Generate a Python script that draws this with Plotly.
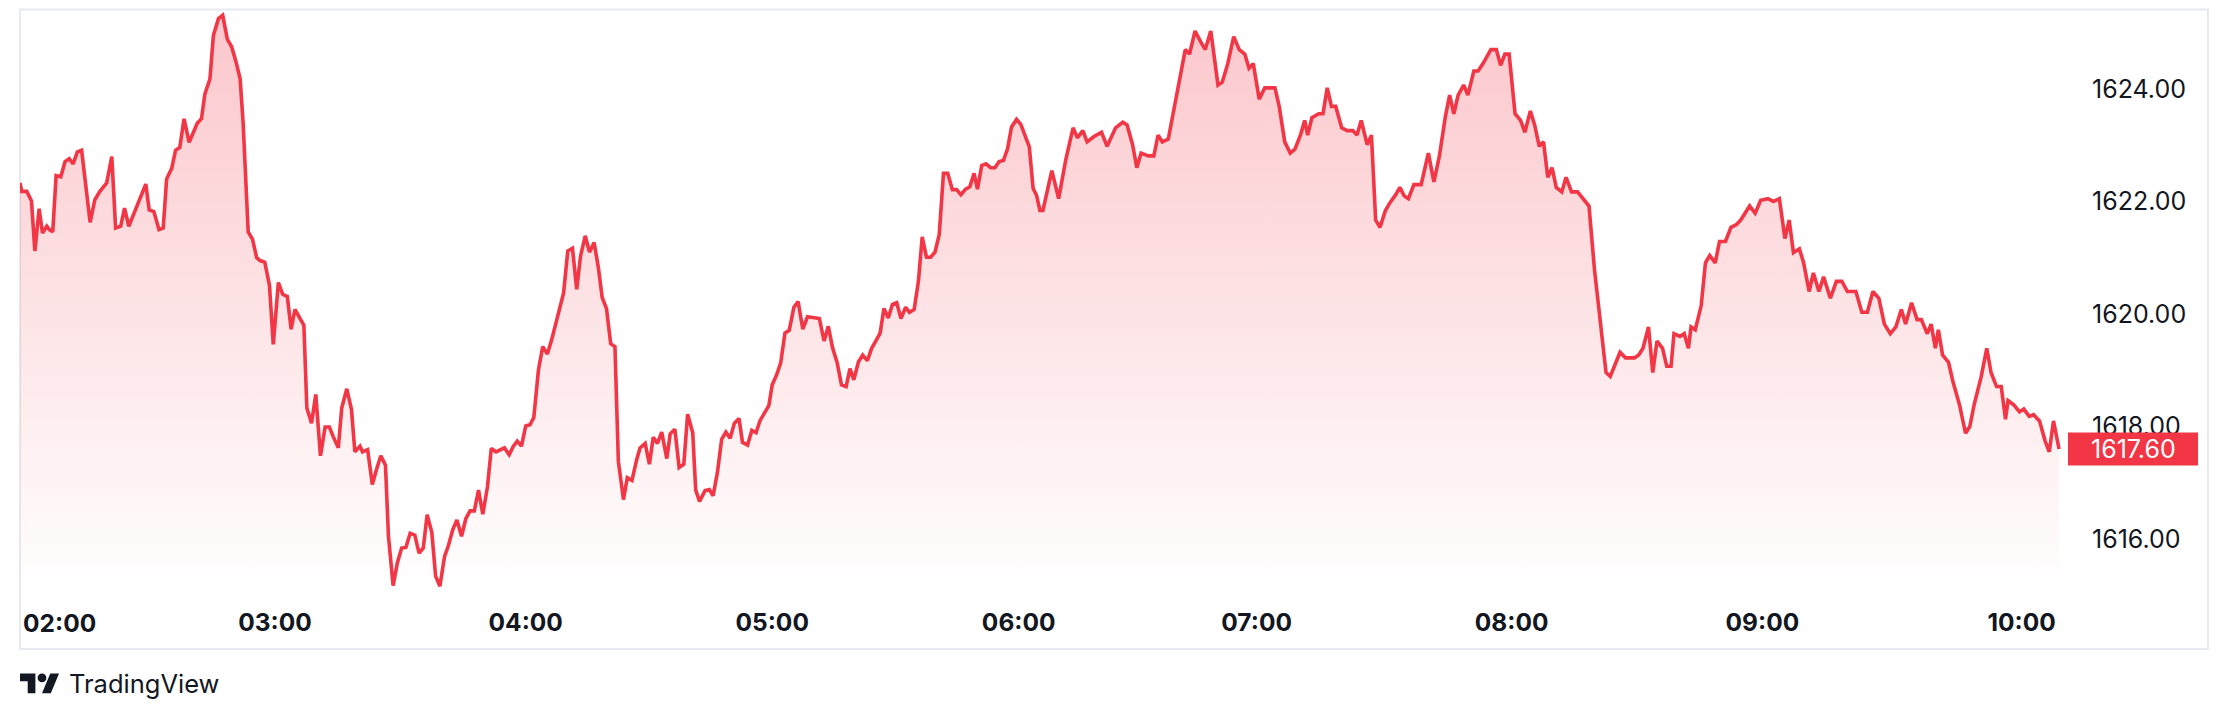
import plotly.graph_objects as go

# ---------------- data (bar index along the time scale, price) ----------------
bar_a = [0.0, 0.4, 1.6, 2.7, 3.5, 4.5, 5.3, 6.3, 6.9, 7.7, 8.5, 9.6, 10.6, 11.6, 12.5, 13.5, 14.5, 16.5, 17.6, 18.8,
         20.4, 21.6, 22.5, 23.7, 24.6, 25.6, 29.6, 30.4, 31.5, 32.7, 33.7, 34.5, 35.7, 36.6, 37.6, 38.6, 39.8, 40.8,
         41.7, 42.7, 43.5, 44.7, 45.5, 46.7, 47.7, 48.8, 49.8, 50.8, 51.8, 52.5, 53.7, 54.7, 55.7, 56.5, 57.6, 58.7,
         59.6, 60.8, 61.8, 62.9, 63.8, 64.7, 65.7, 66.8, 67.5, 68.6, 69.6, 70.7, 71.8, 72.8, 73.7, 74.9, 75.7, 76.9,
         78.0, 78.8, 80.0]
price_a = [1622.33, 1622.18, 1622.18, 1622.01, 1621.12, 1621.87, 1621.44, 1621.56, 1621.50, 1621.46, 1622.46, 1622.44,
           1622.71, 1622.76, 1622.67, 1622.88, 1622.91, 1621.63, 1622.03, 1622.18, 1622.33, 1622.80, 1621.53, 1621.56,
           1621.88, 1621.56, 1622.31, 1621.85, 1621.82, 1621.50, 1621.53, 1622.40, 1622.59, 1622.91, 1622.96, 1623.47,
           1623.05, 1623.23, 1623.39, 1623.47, 1623.91, 1624.18, 1624.95, 1625.25, 1625.31, 1624.88, 1624.75, 1624.49,
           1624.18, 1623.40, 1621.46, 1621.33, 1621.00, 1620.95, 1620.92, 1620.51, 1619.46, 1620.56, 1620.35, 1620.31,
           1619.73, 1620.08, 1619.95, 1619.80, 1618.33, 1618.06, 1618.57, 1617.48, 1617.99, 1617.99, 1617.82, 1617.62,
           1618.33, 1618.67, 1618.30, 1617.55, 1617.65]

bar_b = [80.6, 81.8, 82.9, 83.9, 84.9, 86.0, 86.7, 87.8, 88.8, 89.8, 90.8, 91.8, 92.9, 93.9, 94.9, 95.8, 96.9, 97.8,
         98.8, 99.9, 100.8, 101.8, 102.8, 103.9, 104.9, 105.9, 106.9, 107.9, 108.9, 110.0, 110.9, 112.0, 114.0, 115.1,
         116.1, 117.0, 118.0, 119.0, 120.0, 120.9, 122.0, 123.0, 124.1, 125.1, 126.1, 127.1, 127.9, 128.9, 130.0,
         131.0, 131.9, 133.0, 134.0, 135.1, 136.1, 137.0, 138.0, 139.0, 140.0, 140.8, 142.0, 142.9, 144.0, 145.1,
         145.9, 147.1, 148.1, 149.0, 150.0, 151.0, 152.2, 153.0, 154.1, 155.1, 156.2, 157.1, 158.3, 159.0, 159.9]
price_b = [1617.55, 1617.59, 1616.97, 1617.24, 1617.48, 1617.31, 1616.05, 1615.17, 1615.58, 1615.84, 1615.85, 1616.10,
           1616.07, 1615.75, 1615.84, 1616.43, 1616.12, 1615.34, 1615.16, 1615.69, 1615.88, 1616.16, 1616.34, 1616.05,
           1616.36, 1616.50, 1616.50, 1616.87, 1616.44, 1616.93, 1617.61, 1617.55, 1617.62, 1617.50, 1617.65, 1617.74,
           1617.65, 1618.01, 1618.03, 1618.16, 1619.01, 1619.42, 1619.29, 1619.54, 1619.83, 1620.10, 1620.37, 1621.12,
           1621.17, 1620.44, 1621.03, 1621.39, 1621.10, 1621.27, 1620.82, 1620.29, 1620.10, 1619.47, 1619.42, 1617.38,
           1616.70, 1617.09, 1617.04, 1617.41, 1617.62, 1617.70, 1617.33, 1617.81, 1617.70, 1617.90, 1617.43, 1617.87,
           1617.95, 1617.27, 1617.33, 1618.22, 1617.89, 1616.87, 1616.67]

bar_c = [161.2, 162.2, 163.1, 164.1, 165.1, 166.1, 167.1, 168.1, 169.2, 170.0, 171.2, 172.2, 173.2, 174.1, 175.1,
         176.2, 177.0, 178.0, 179.0, 180.0, 181.0, 182.1, 183.1, 184.2, 185.3, 188.1, 189.2, 190.2, 191.2, 192.3,
         193.3, 194.4, 195.3, 196.2, 197.3, 198.3, 199.4, 200.4, 201.3, 202.4, 203.3, 204.3, 205.3, 206.3, 207.3,
         208.4, 209.3, 210.4, 211.4, 212.3, 213.3, 214.3, 215.3, 216.3, 217.3, 218.3, 219.4, 220.4, 221.4, 222.5,
         223.5, 224.5, 225.3, 226.3, 227.3, 228.4, 229.4, 230.4, 231.4, 232.4, 233.3, 234.5, 235.5, 236.5, 237.5,
         238.4, 239.2, 240.0]
price_c = [1616.86, 1616.88, 1616.77, 1617.18, 1617.77, 1617.90, 1617.79, 1618.06, 1618.14, 1617.72, 1617.67, 1617.93,
           1617.89, 1618.10, 1618.23, 1618.37, 1618.74, 1618.91, 1619.13, 1619.66, 1619.71, 1620.12, 1620.22, 1619.73,
           1619.95, 1619.92, 1619.52, 1619.78, 1619.40, 1619.13, 1618.74, 1618.71, 1619.03, 1618.83, 1619.15, 1619.27,
           1619.17, 1619.39, 1619.51, 1619.66, 1620.10, 1619.93, 1620.17, 1620.20, 1619.92, 1620.12, 1620.03, 1620.08,
           1620.58, 1621.37, 1621.01, 1621.01, 1621.10, 1621.41, 1622.50, 1622.50, 1622.21, 1622.21, 1622.12, 1622.22,
           1622.26, 1622.50, 1622.22, 1622.64, 1622.67, 1622.60, 1622.60, 1622.71, 1622.73, 1622.94, 1623.32, 1623.46,
           1623.37, 1623.16, 1622.97, 1622.23, 1622.11, 1621.84]

bar_d = [240.7, 242.8, 244.4, 246.1, 247.8, 248.8, 250.1, 251.1, 252.8, 254.5, 255.8, 257.8, 259.5, 260.5, 261.8,
         262.8, 263.8, 265.5, 266.8, 267.8, 268.8, 270.2, 271.5, 272.8, 274.2, 275.2, 276.5, 277.9, 278.9, 280.2,
         281.9, 282.9, 284.2, 285.6, 286.9, 288.2, 289.2, 290.2, 291.6, 292.9, 294.2, 295.3, 296.3, 297.6, 298.9,
         300.0, 301.3, 302.3, 303.0, 304.0, 305.6, 306.6, 307.6, 308.6, 309.6, 311.0, 312.3, 313.6, 314.6, 315.6,
         317.0, 318.0, 319.0, 320.0, 321.3, 322.3, 323.7, 324.7, 325.7, 326.7, 328.0, 329.7, 331.4, 332.7, 334.0,
         335.4, 336.4, 337.4, 338.4, 339.7, 340.7, 342.1, 343.1, 344.4, 346.1, 347.4, 348.4, 349.4, 350.4]
price_d = [1621.84, 1622.55, 1622.05, 1622.75, 1623.31, 1623.13, 1623.26, 1623.06, 1623.16, 1623.23, 1622.98, 1623.31,
           1623.41, 1623.36, 1623.01, 1622.60, 1622.86, 1622.81, 1622.81, 1623.18, 1623.06, 1623.11, 1623.61, 1624.12,
           1624.70, 1624.62, 1625.03, 1624.83, 1624.70, 1625.03, 1624.07, 1624.12, 1624.45, 1624.93, 1624.70, 1624.62,
           1624.37, 1624.45, 1623.82, 1624.02, 1624.02, 1624.02, 1623.69, 1623.06, 1622.86, 1622.93, 1623.18, 1623.44,
           1623.18, 1623.49, 1623.56, 1623.56, 1624.02, 1623.69, 1623.69, 1623.31, 1623.26, 1623.26, 1623.18, 1623.44,
           1623.01, 1623.18, 1621.67, 1621.54, 1621.84, 1621.97, 1622.12, 1622.25, 1622.10, 1622.05, 1622.30, 1622.30,
           1622.86, 1622.35, 1622.81, 1623.51, 1623.89, 1623.56, 1623.89, 1624.07, 1623.89, 1624.32, 1624.32, 1624.47,
           1624.70, 1624.70, 1624.42, 1624.62, 1624.62]

bar_e = [351.8, 353.1, 354.1, 355.4, 356.4, 357.5, 358.5, 359.5, 360.5, 361.5, 362.8, 363.8, 365.1, 366.5, 367.8,
         369.2, 370.5, 371.8, 373.2, 374.2, 375.5, 376.5, 377.8, 379.9, 380.9, 381.9, 383.2, 384.2, 385.2, 386.5,
         387.5, 388.5, 389.2, 390.6, 391.6, 392.6, 393.2, 394.2, 395.6, 396.6, 397.6, 398.9, 399.9, 401.3, 402.6,
         403.9, 404.9, 405.9, 407.0, 408.3, 409.6, 411.3, 412.6, 414.0, 415.3, 416.3, 417.3, 418.7, 419.7, 421.0,
         422.0, 423.3, 424.4, 426.0, 427.4, 428.7, 430.0, 432.0, 433.4, 434.7, 436.0, 437.4, 438.7, 440.1, 441.4,
         442.7, 443.7, 445.1, 446.4, 447.4, 448.8, 449.7, 450.7, 451.4, 452.4, 453.8, 454.8, 456.4, 457.8, 458.8,
         459.8, 461.5, 462.8, 463.8, 465.1, 466.2, 467.2, 467.8, 469.2, 470.5, 471.5, 472.8, 473.8, 475.2, 476.5,
         477.5, 478.5, 479.8]
price_e = [1623.56, 1623.44, 1623.23, 1623.61, 1623.36, 1622.98, 1623.06, 1622.43, 1622.60, 1622.25, 1622.17, 1622.43,
           1622.17, 1622.17, 1622.05, 1621.92, 1620.78, 1619.90, 1618.96, 1618.89, 1619.14, 1619.32, 1619.22, 1619.22,
           1619.27, 1619.39, 1619.77, 1618.96, 1619.52, 1619.39, 1619.07, 1619.07, 1619.65, 1619.60, 1619.65, 1619.39,
           1619.77, 1619.72, 1620.15, 1620.91, 1621.04, 1620.91, 1621.29, 1621.29, 1621.54, 1621.59, 1621.67, 1621.79,
           1621.92, 1621.79, 1622.02, 1622.05, 1622.00, 1622.05, 1621.34, 1621.67, 1621.09, 1621.16, 1620.91, 1620.40,
           1620.73, 1620.40, 1620.66, 1620.28, 1620.58, 1620.58, 1620.40, 1620.40, 1620.03, 1620.03, 1620.40, 1620.28,
           1619.82, 1619.65, 1619.77, 1620.08, 1619.82, 1620.20, 1619.90, 1619.90, 1619.65, 1619.82, 1619.39, 1619.72,
           1619.27, 1619.14, 1618.81, 1618.38, 1617.88, 1618.00, 1618.38, 1618.89, 1619.39, 1618.96, 1618.71, 1618.71,
           1618.13, 1618.46, 1618.38, 1618.26, 1618.31, 1618.18, 1618.21, 1618.10, 1617.75, 1617.55, 1618.10, 1617.60]

hour_bars = [60, 119, 177, 235, 291, 351, 410, 471]
hour_labels = ["03:00", "04:00", "05:00", "06:00", "07:00", "08:00", "09:00", "10:00"]
first_hour_label = "02:00"
price_ticks = [1616, 1618, 1620, 1622, 1624]

# ---------------- assemble ----------------
segments = [(bar_a, price_a), (bar_b, price_b), (bar_c, price_c), (bar_d, price_d), (bar_e, price_e)]
bar, price = [], []
for bx, py_ in segments:
    assert len(bx) == len(py_), (len(bx), len(py_))
    bar += bx
    price += py_
last_price = price[-1]

# ---------------- layout geometry ----------------
# the page body keeps an 8px default margin, so the figure is drawn 8px smaller
# and every page-pixel position below is converted to figure pixels.
PAGE_W, PAGE_H = 2228, 718
OFF = 8
W, H = PAGE_W - OFF, PAGE_H - OFF

def fx_(page_x):
    return page_x - OFF

def fy_(page_y):
    return page_y - OFF

L, R, T, B = fx_(20), fx_(2062), fy_(10), fy_(592)     # plot area (figure pixels)
X_RANGE = [0, 480.5]
Y_RANGE = [1615.058, 1625.404]

def pxx(page_x):
    return (fx_(page_x) - L) / (R - L)

def pxy(page_y):
    return (B - fy_(page_y)) / (B - T)

RED = "#F23645"
INK = "#131722"
FONT = "Inter, Roboto, sans-serif"

fig = go.Figure()
fig.add_trace(go.Scatter(
    x=bar, y=price, mode="lines",
    line=dict(color=RED, width=3.6),
    fill="tozeroy",
    fillgradient=dict(type="vertical",
                      colorscale=[[0, "rgba(242,54,69,0.0)"], [1, "rgba(242,54,69,0.28)"]],
                      start=Y_RANGE[0], stop=max(price)),
    hoverinfo="skip", showlegend=False,
))

shapes = []
# outer frame
shapes.append(dict(type="rect", xref="paper", yref="paper",
                   x0=pxx(20), x1=pxx(2208), y0=pxy(649), y1=pxy(9.5),
                   line=dict(color="#E6E9EF", width=2), fillcolor="rgba(0,0,0,0)", layer="below"))
# last price badge
shapes.append(dict(type="rect", xref="paper", yref="y", ysizemode="pixel", yanchor=last_price,
                   x0=pxx(2068), x1=pxx(2198), y0=-16.5, y1=16.5,
                   fillcolor=RED, line=dict(width=0), layer="above"))

# TradingView logo (36x28 viewBox geometry, scaled)
def logo_pt(lx, ly):
    s = 1.1
    return pxx(20 + lx * s), pxy(673.5 + (ly - 4) * s)

def logo_path(pts):
    cmds = []
    for i, (lx, ly) in enumerate(pts):
        x, y = logo_pt(lx, ly)
        cmds.append(("M" if i == 0 else "L") + f"{x:.6f},{y:.6f}")
    return " ".join(cmds) + " Z"

shapes.append(dict(type="path", xref="paper", yref="paper",
                   path=logo_path([(0, 4), (14, 4), (14, 22), (7, 22), (7, 11), (0, 11)]),
                   fillcolor=INK, line=dict(width=0)))
shapes.append(dict(type="path", xref="paper", yref="paper",
                   path=logo_path([(27.5, 4), (35.5, 4), (28, 22), (20, 22)]),
                   fillcolor=INK, line=dict(width=0)))
cx0, cy0 = logo_pt(16, 4)
cx1, cy1 = logo_pt(24, 12)
shapes.append(dict(type="circle", xref="paper", yref="paper",
                   x0=cx0, x1=cx1, y0=cy1, y1=cy0, fillcolor=INK, line=dict(width=0)))

annotations = [
    dict(text=first_hour_label, xref="paper", yref="paper", x=pxx(21), y=pxy(623),
         xanchor="left", yanchor="middle", showarrow=False,
         font=dict(family=FONT, size=24.5, color=INK, weight="bold")),
    dict(text=f"{last_price:.2f}", xref="paper", yref="y", x=pxx(2089), y=last_price,
         xanchor="left", yanchor="middle", showarrow=False,
         font=dict(family=FONT, size=25, color="#FFFFFF")),
    dict(text="TradingView", xref="paper", yref="paper", x=pxx(67), y=pxy(684),
         xanchor="left", yanchor="middle", showarrow=False,
         font=dict(family=FONT, size=25.5, color=INK)),
]

fig.update_layout(
    width=W, height=H, autosize=False,
    margin=dict(l=L, r=W - R, t=T, b=H - B, pad=0),
    paper_bgcolor="#FFFFFF", plot_bgcolor="#FFFFFF",
    showlegend=False, hovermode=False,
    shapes=shapes, annotations=annotations,
    xaxis=dict(range=X_RANGE, showgrid=False, zeroline=False, showline=False,
               tickmode="array", tickvals=hour_bars, ticktext=hour_labels,
               ticks="outside", ticklen=9, tickcolor="rgba(0,0,0,0)",
               tickfont=dict(family=FONT, size=24.5, color=INK, weight="bold"),
               fixedrange=True),
    yaxis=dict(range=Y_RANGE, side="right", showgrid=False, zeroline=False, showline=False,
               tickmode="array", tickvals=price_ticks, ticktext=[f"{v:.2f}" for v in price_ticks],
               ticks="outside", ticklen=24, tickcolor="rgba(0,0,0,0)",
               tickfont=dict(family=FONT, size=25, color=INK),
               fixedrange=True),
)

fig.write_html("out.html", config={"displayModeBar": False})
